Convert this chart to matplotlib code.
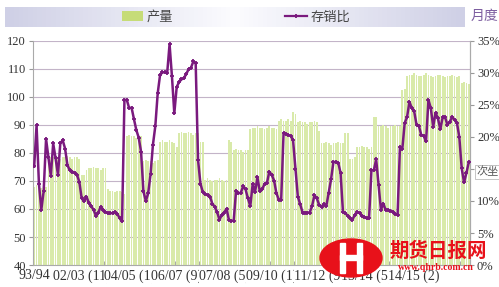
import numpy as np
import matplotlib
matplotlib.use('Agg')
import matplotlib.pyplot as plt
from matplotlib.patches import Ellipse, Rectangle, Patch
from matplotlib.lines import Line2D
from matplotlib.ticker import FuncFormatter

plt.rcParams['font.family'] = ['Liberation Serif', 'Noto Sans CJK SC']

x_labels = ['93/94', '02/03 (11)', '04/05 (1)', '06/07 (9)', '07/08 (5)',
            '09/10 (1)', '11/12 (9)', '13/14 (5)', '14/15 (2)']

# 产量 (left axis)
output = [
    68, 68.5, 68, 67.5, 68, 68,
    78, 78.5, 78.5, 79, 78.5, 78, 78.5, 78.5, 79, 78.5, 78, 78.5, 78.5, 78,
    72, 72,
    74, 74.5, 74.5, 75, 74.5, 74.5, 74, 74.5, 74.5,
    67, 66.5, 66.5, 66, 66.5, 66.5, 66, 65.5,
    86, 86.5, 86, 86, 85.5, 86, 86,
    77, 77.5, 77, 77, 76.5, 77, 77.5,
    84, 84.5, 84, 84, 84.5, 84, 83.5,
    82,
    87, 87.5, 87, 87, 87.5, 87, 86.5, 87, 87,
    84, 84,
    70.5, 71, 70.5, 70, 70.5, 70.5, 71, 70.5, 70, 70.5,
    84.5, 84,
    81, 81.5, 81, 81, 80.5, 81, 81,
    88.5, 89, 89, 89.5, 89, 89, 88.5, 89, 89.5, 89, 89, 88.5,
    91.5, 92, 91.5, 91.5, 92, 91.5,
    94.5, 94,
    91, 91.5, 91, 91, 90.5, 91, 91, 91.5, 91,
    88,
    83.5, 83.5, 84, 83.5, 83, 83.5, 83.5, 84, 83.5, 83.5,
    87, 87,
    78, 78, 78.5,
    82, 82, 82.5, 82, 82, 81.5, 82,
    93, 93,
    89.5, 89.5, 90, 89.5, 89, 89.5, 89.5, 90, 89.5, 89.5,
    102.5, 103,
    107.5, 108, 108, 108.5, 108, 107.5, 107.5, 108, 108.5, 108, 107.5, 107,
    107.5, 108, 108, 107.5, 107, 107.5, 107.5, 108, 107.5, 107, 107.5,
    105, 105.5, 105, 104.5,
]

# 存销比 (right axis, %)
ratio = [
    15.4, 21.8, 12.7, 8.6, 11.6, 19.7, 16.8, 13.9, 19.0, 16.7,
    14.1, 19.0, 19.5, 18.2, 15.6, 14.8, 14.6, 14.4, 14.1, 13.0,
    10.4, 10.0, 10.7, 9.7, 9.2, 8.6, 7.7, 8.2, 9.1, 8.6,
    8.3, 8.1, 8.1, 8.1, 8.3, 8.0, 7.3, 6.8, 25.8, 25.8,
    24.5, 24.6, 22.8, 21.1, 19.9, 17.7, 11.5, 10.0, 11.2, 14.2,
    18.8, 21.7, 26.8, 29.7, 30.1, 30.1, 30.0, 34.5, 29.5, 23.7,
    27.8, 28.6, 29.0, 29.2, 29.8, 30.6, 30.8, 31.8, 31.5, 16.4,
    12.7, 11.4, 11.1, 10.9, 10.7, 9.6, 9.1, 8.3, 7.1, 7.8,
    8.2, 8.8,
    7.0, 6.9, 6.9, 11.6, 11.2, 11.3, 12.3, 11.8, 10.4, 9.2,
    12.7, 11.4, 13.7, 11.5, 11.8, 12.7, 12.8, 14.6, 14.1, 13.2,
    11.2, 10.2, 10.2, 20.6, 20.4, 20.3, 20.2, 19.5, 15.0, 10.7,
    9.5, 8.2, 8.2, 8.2, 8.2, 9.2, 10.9, 10.4, 9.4, 9.1,
    9.5, 9.2, 11.3, 13.4, 16.1, 16.1, 16.0, 14.4, 8.3, 8.1,
    7.7, 7.3, 7.1, 7.8, 8.3, 8.1, 7.7, 7.5, 7.3, 7.3,
    14.8, 14.8, 16.5, 12.5, 8.6, 9.6, 8.6, 8.6, 8.5, 8.3,
    8.0, 7.8, 18.4, 18.1, 22.2, 23.1, 25.5, 24.5, 24.0, 21.9,
    21.7, 20.3, 20.2, 19.3, 25.8, 24.5, 21.6, 23.8, 22.9, 21.2,
    23.1, 23.1, 21.9, 22.4, 23.1, 22.7, 22.2, 20.0, 15.1, 12.9,
    14.4, 16.1,
]

n = len(ratio)
x = np.arange(n)

fig = plt.figure(figsize=(4.99, 2.87), dpi=100)
fig.patch.set_facecolor('white')

ax = fig.add_axes([33/499, 22/287, 437/499, 224/287])
ax.bar(x, output[:n], width=0.75, bottom=0, color='#d9eaaa', zorder=1)
ax.set_xlim(-0.5, n - 0.5)
ax.set_ylim(40, 120)
ax.set_yticks(range(40, 121, 10))
ax.grid(axis='y', color='#c3b4c8', lw=0.8)
ax.set_axisbelow(True)

ax.set_xticks(np.arange(0, 161, 20))
ax.set_xticklabels(x_labels)
ax.set_xticks(np.arange(0, n + 1, 10) - 0.5, minor=True)
ax.tick_params(axis='x', which='major', length=0, labelsize=10, pad=3,
               labelcolor='#333333')
ax.tick_params(axis='x', which='minor', direction='in', length=3, color='#999999')
ax.tick_params(axis='y', length=3, color='#999999', labelsize=9,
               labelcolor='#333333', pad=2)
for lbl in ax.get_xticklabels():
    lbl.set_bbox(dict(fc='white', ec='none', pad=0))
for s in ['left', 'right', 'bottom']:
    ax.spines[s].set_color('#aaaaaa')
ax.spines['top'].set_visible(False)

ax2 = ax.twinx()
ax2.plot(x, ratio, color='#7a1a7e', lw=1.8, marker='+', ms=3.5, mew=1.3, zorder=3)
ax2.set_ylim(0, 35)
ax2.set_yticks(range(0, 36, 5))
ax2.yaxis.set_major_formatter(FuncFormatter(lambda v, p: '%d%%' % v))
ax2.tick_params(axis='y', length=3, color='#999999', labelsize=9,
                labelcolor='#333333', pad=2)
ax2.spines['top'].set_visible(False)
ax2.spines['right'].set_color('#aaaaaa')
ax2.spines['left'].set_visible(False)
ax2.spines['bottom'].set_visible(False)

# legend band with soft gradient
bg = fig.add_axes([5/499, 1 - 27/287, 460/499, 20/287], zorder=-1)
grad = np.concatenate([np.linspace(0, 1, 50), np.linspace(1, 0, 50)])
cmap = matplotlib.colors.LinearSegmentedColormap.from_list('g', ['#cfd0e6', '#fbfbfe'])
bg.imshow(grad[np.newaxis, :], aspect='auto', cmap=cmap, extent=[0, 1, 0, 1])
bg.axis('off')

handles = [Patch(facecolor='#c6dc78', edgecolor='none'),
           Line2D([], [], color='#7a1a7e', lw=1.6, marker='+', ms=3.5, mew=1.3)]
leg = fig.legend(handles, ['产量', '存销比'], loc='center', ncol=2,
                 bbox_to_anchor=(236/499, 1 - 17/287), frameon=False,
                 columnspacing=8.5, handlelength=1.6, handletextpad=0.3,
                 prop={'family': ['Noto Sans CJK SC'], 'size': 9.5})
for t in leg.get_texts():
    t.set_color('#444444')

fig.text(484/499, 1 - 16/287, '月度', ha='center', va='center', fontsize=10,
         color='#7d5ea0', family=['Noto Sans CJK SC'])

fig.text(488/499, 1 - 172/287, '次坐', ha='center', va='center', fontsize=8,
         color='#555555', family=['Noto Sans CJK SC'],
         bbox=dict(boxstyle='square,pad=0.15', fc='white', ec='#bbbbbb', lw=0.6),
         zorder=10)

# watermark logo
lg = fig.add_axes([0, 0, 1, 1], zorder=10)
lg.set_xlim(0, 499)
lg.set_ylim(287, 0)
lg.axis('off')
lg.add_patch(Ellipse((351, 258), 62, 38, color='#e8111a'))
lg.add_patch(Rectangle((340, 243), 5, 30, color='white'))
lg.add_patch(Rectangle((357, 243), 5, 30, color='white'))
lg.add_patch(Rectangle((340, 255), 22, 5, color='white'))
lg.text(438, 251, '期货日报网', ha='center', va='center', fontsize=14,
        fontweight='bold', color='#e8111a', family=['Noto Sans CJK SC'])
lg.text(436, 268, 'www.qhrb.com.cn', ha='center', va='center', fontsize=7,
        fontweight='bold', color='#e8111a')

fig.savefig('out.png', dpi=100)
